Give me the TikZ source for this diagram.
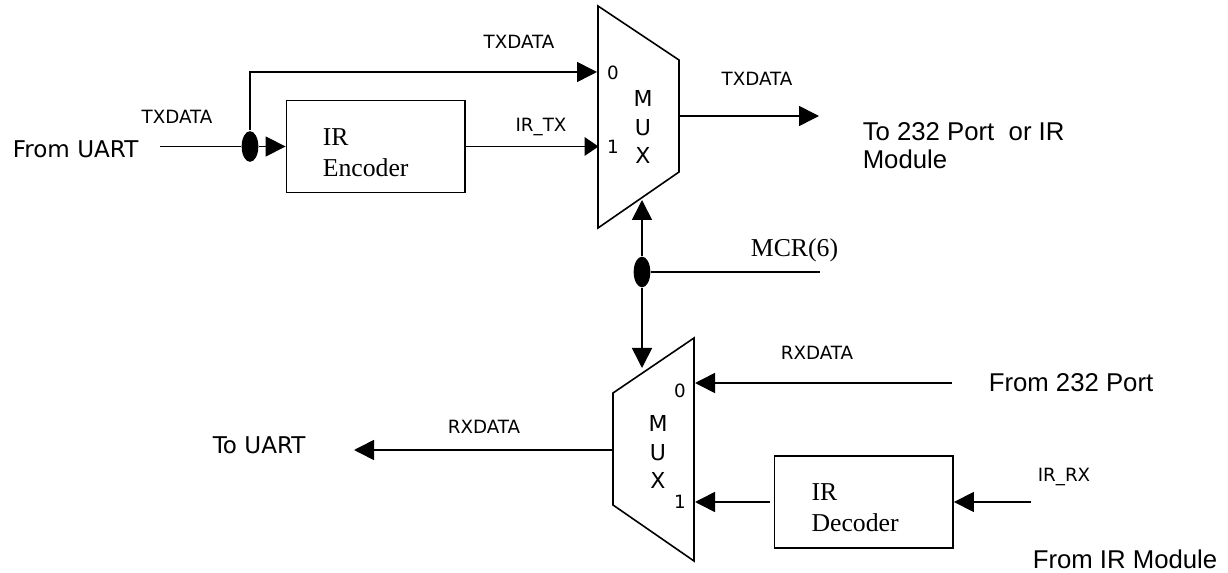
\documentclass[tikz,border=0pt]{standalone}
\usepackage{fontspec}
\setmainfont{Liberation Sans}
\newfontfamily\serifface{Liberation Serif}
\newfontfamily\smallface{DejaVu Sans}
\usetikzlibrary{shapes,positioning,arrows.meta}

\tikzset{
    blockbox/.style={draw, line width=1.2pt, rectangle, minimum width=134pt, minimum height=69pt},
    junction/.style={fill, ellipse, inner sep=0pt, minimum width=12.5pt, minimum height=23pt},
    sigtext/.style={font=\smallface\fontsize{13.7}{16}\selectfont, inner sep=0pt, anchor=base},
    bigtext/.style={font=\fontsize{19.3}{21.4}\selectfont, inner sep=0pt, anchor=base west},
    uarttext/.style={font=\smallface\fontsize{17.3}{20}\selectfont, inner sep=0pt, anchor=base west},
    muxtext/.style={font=\smallface\fontsize{16.5}{21.4}\selectfont, inner sep=0pt, align=center},
    boxtext/.style={font=\serifface\fontsize{19.3}{23.3}\selectfont, inner sep=0pt, align=left, anchor=west},
    shorthead/.style={-{Triangle[length=10.5pt,width=14pt]}}
}

\begin{document}
\begin{tikzpicture}[x=0.75pt, y=-0.75pt, line width=1.2pt, >={Triangle[length=15pt,width=15pt]}]
    \useasboundingbox (0, 0) rectangle (1228, 573);

    % upper mux
    \draw (598, 6) -- (679, 60) -- (679, 172) -- (598, 228) -- cycle;
    \coordinate (txzero) at (597, 72);
    \coordinate (txone) at (598.5, 146.5);
    \coordinate (txout) at (679, 116);
    \coordinate (txsel) at (642, 200);
    \node [muxtext] (txmux) at (643, 127) {M\\U\\X};
    \node [sigtext] (txzerolab) at (613, 79.5) {0};
    \node [sigtext] (txonelab) at (613, 153.5) {1};

    % lower mux
    \draw (694, 338) -- (613, 393) -- (613, 505) -- (694, 561) -- cycle;
    \coordinate (rxzero) at (695, 383);
    \coordinate (rxone) at (695, 502);
    \coordinate (rxout) at (612, 450);
    \coordinate (rxsel) at (642, 368);
    \node [muxtext] (rxmux) at (658, 452) {M\\U\\X};
    \node [sigtext] (rxzerolab) at (680, 397.5) {0};
    \node [sigtext] (rxonelab) at (680, 508.5) {1};

    % blocks
    \node [blockbox] (encoder) at (375.7, 146.5) {};
    \node [boxtext] (encodertext) at (322, 152.7) {IR\\Encoder};
    \node [blockbox] (decoder) at (863.8, 502) {};
    \node [boxtext] (decodertext) at (810.7, 507.6) {IR\\Decoder};

    % junctions
    \node [junction] (txjoin) at (250, 146.5) {};
    \node [junction] (seljoin) at (642, 272) {};

    % free ends
    \coordinate (uartin) at (160, 146.5);
    \coordinate (txend) at (819, 116);
    \coordinate (selend) at (820, 272);
    \coordinate (rxend) at (354, 450);
    \coordinate (portin) at (952, 383);
    \coordinate (irin) at (1031, 502);
    \coordinate (decoderout) at (770, 502);

    \draw (uartin) -- (txjoin);
    \draw [->] (txjoin) -- (encoder);
    \draw [->] (txjoin.north) |- (txzero);
    \draw [shorthead] (encoder) -- (txone);
    \draw [->] (txout) -- (txend);
    \draw [->] (seljoin) -- (txsel);
    \draw [->] (seljoin) -- (rxsel);
    \draw (seljoin) -- (selend);
    \draw [->] (portin) -- (rxzero);
    \draw [->] (decoderout) -- (rxone);
    \draw [->] (irin) -- (decoder);
    \draw [->] (rxout) -- (rxend);

    % labels
    \node [uarttext] (fromuart) at (12, 158) {From UART};
    \node [sigtext] (txdatain) at (177, 123.5) {TXDATA};
    \node [sigtext] (txdatatop) at (519, 49) {TXDATA};
    \node [sigtext] (irtx) at (541, 131.7) {IR\_TX};
    \node [sigtext] (txdataout) at (757, 85.5) {TXDATA};
    \node [bigtext, align=left, anchor=west] (toport) at (862, 145.5) {To 232 Port\ \ or IR\\Module};
    \node [inner sep=0pt, anchor=base, font=\serifface\fontsize{19.3}{21}\selectfont] (mcrsix) at (794.5, 257) {MCR(6)};
    \node [sigtext] (rxdatain) at (817, 359.5) {RXDATA};
    \node [bigtext] (fromport) at (988, 392) {From 232 Port};
    \node [sigtext] (rxdataout) at (484, 433.5) {RXDATA};
    \node [uarttext] (touart) at (212, 454) {To UART};
    \node [sigtext] (irrx) at (1064, 481.7) {IR\_RX};
    \node [bigtext] (fromir) at (1032, 568) {From IR Module};
\end{tikzpicture}
\end{document}
